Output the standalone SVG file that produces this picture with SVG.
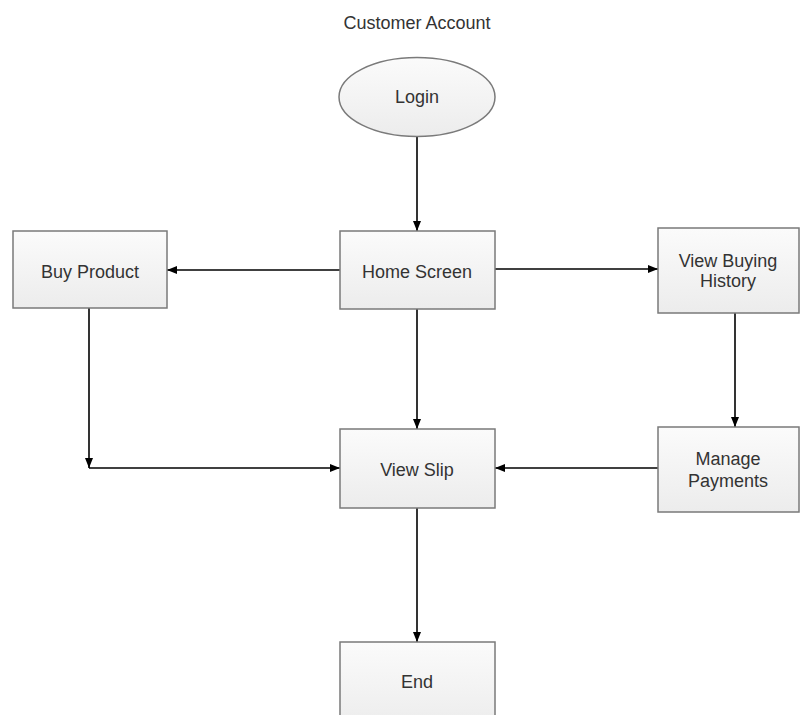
<svg xmlns="http://www.w3.org/2000/svg" width="800" height="715" viewBox="0 0 800 715">
<defs>
<linearGradient id="fillGrad" x1="0" y1="0" x2="0" y2="1">
<stop offset="0" stop-color="#fbfbfb"/>
<stop offset="1" stop-color="#ececec"/>
</linearGradient>
<marker id="arrow" viewBox="0 0 10 8" refX="10" refY="4" markerWidth="10" markerHeight="8" markerUnits="userSpaceOnUse" orient="auto">
<path d="M0,0 L10,4 L0,8 Z" fill="#000"/>
</marker>
</defs>
<style>
.shape{fill:url(#fillGrad);stroke:#7a7a7a;stroke-width:1.5}
.label{font-family:"Liberation Sans",Arial,sans-serif;font-size:18px;fill:#333;text-anchor:middle}
.conn{fill:none;stroke:#000;stroke-width:1.6;marker-end:url(#arrow)}
</style>
<rect width="800" height="715" fill="#fff"/>
<text class="label" x="417" y="29">Customer Account</text>
<g id="connectors">
<path class="conn" d="M417,137 L417,231"/>
<path class="conn" d="M340,270 L167,270"/>
<path class="conn" d="M495,269 L658,269"/>
<path class="conn" d="M735,313 L735,427"/>
<path class="conn" d="M658,468 L495,468"/>
<path class="conn" d="M417,309 L417,429"/>
<path class="conn" d="M89,308 L89,468"/>
<path class="conn" d="M89,468 L340,468"/>
<path class="conn" d="M417,508 L417,642"/>
</g>
<g id="login">
<ellipse class="shape" cx="417" cy="97" rx="78" ry="39.5"/>
<text class="label" x="417" y="103">Login</text>
</g>
<g id="home-screen">
<rect class="shape" x="340" y="231" width="155" height="78"/>
<text class="label" x="417" y="278">Home Screen</text>
</g>
<g id="buy-product">
<rect class="shape" x="13" y="231" width="154" height="77"/>
<text class="label" x="90" y="278">Buy Product</text>
</g>
<g id="view-buying-history">
<rect class="shape" x="658" y="228" width="141" height="85"/>
<text class="label" x="728" y="267">View Buying</text>
<text class="label" x="728" y="287">History</text>
</g>
<g id="manage-payments">
<rect class="shape" x="658" y="427" width="141" height="85"/>
<text class="label" x="728" y="465">Manage</text>
<text class="label" x="728" y="487">Payments</text>
</g>
<g id="view-slip">
<rect class="shape" x="340" y="429" width="155" height="79"/>
<text class="label" x="417" y="476">View Slip</text>
</g>
<g id="end">
<rect class="shape" x="340" y="642" width="155" height="85"/>
<text class="label" x="417" y="688">End</text>
</g>
</svg>
